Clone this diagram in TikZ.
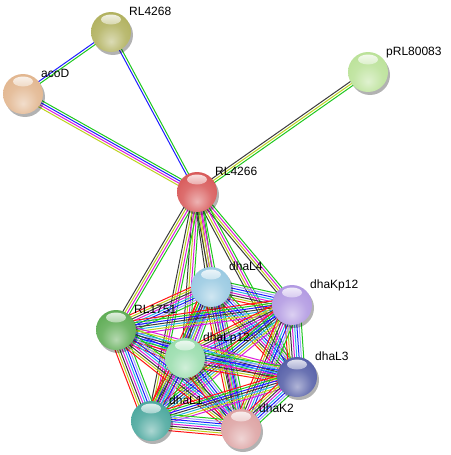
\documentclass[tikz,border=0pt]{standalone}
\usepackage{fontspec}
\setmainfont{Liberation Sans}
\usetikzlibrary{calc}
\pgfdeclarelayer{bg}
\pgfdeclarelayer{edges}
\pgfdeclarelayer{shadow}
\pgfdeclarelayer{labels}
\pgfsetlayers{bg,edges,shadow,main,labels}

\definecolor{eRed}{RGB}{255,20,20}
\definecolor{eGreen}{RGB}{30,200,30}
\definecolor{eBlue}{RGB}{30,30,255}
\definecolor{eBlack}{RGB}{60,60,60}
\definecolor{eMag}{RGB}{220,30,220}
\definecolor{eCyan}{RGB}{40,180,230}
\definecolor{eYel}{RGB}{190,210,30}
\definecolor{eLav}{RGB}{160,160,250}

\definecolor{cRLa}{RGB}{175,175,90}
\definecolor{cAco}{RGB}{225,180,140}
\definecolor{cPRL}{RGB}{185,225,150}
\definecolor{cRLb}{RGB}{215,85,85}
\definecolor{cLfour}{RGB}{150,200,225}
\definecolor{cKp}{RGB}{175,150,225}
\definecolor{cRLc}{RGB}{90,170,80}
\definecolor{cLp}{RGB}{150,220,170}
\definecolor{cLthree}{RGB}{80,90,165}
\definecolor{cLone}{RGB}{70,165,155}
\definecolor{cKtwo}{RGB}{220,160,160}

\colorlet{basecol}{red}
\pgfdeclareradialshading[basecol]{sphere}{\pgfpoint{0bp}{-12bp}}{%
  color(0bp)=(basecol!45!white); color(18bp)=(basecol!85!white);
  color(34bp)=(basecol); color(48bp)=(basecol!65!black); color(60bp)=(basecol!55!black)}

\def\setA{eBlue,eGreen}
\def\setAco{eYel,eMag,eBlue,eGreen}
\def\setP{eBlack,eYel,eGreen}
\def\setHub{eBlack,eYel,eMag,eGreen}
\def\setFull{eRed,eYel,eBlack,eMag,eCyan,eBlue,eLav,eGreen}
\def\setSeven{eRed,eGreen,eBlue,eBlack,eCyan,eYel,eMag}

\newcommand{\medge}[3]{%
  \xdef\ecount{0}%
  \foreach \c in #3 {\xdef\ecount{\the\numexpr\ecount+1\relax}}%
  \foreach \c [count=\i] in #3 {%
    \pgfmathsetmacro{\eoff}{(\i-(\ecount+1)/2)*2.3}%
    \draw[\c, line width=1pt] ($(#1)!\eoff pt!90:(#2)$) -- ($(#2)!\eoff pt!-90:(#1)$);
  }}

\newcommand{\sphere}[4]{%
  \node[circle, minimum size=40pt, inner sep=0pt] (#1) at (#2,#3) {};
  \begin{pgfonlayer}{shadow}
    \fill[black, opacity=0.3] ($(#1)+(2,3)$) circle (20pt);
  \end{pgfonlayer}
  \colorlet{basecol}{#4}%
  \shade[shading=sphere] (#1) circle (20pt);
  \shade[top color=white, bottom color=#4!40!white, opacity=0.8] ($(#1)+(0,-12.5)$) ellipse (10pt and 5pt);
}

\tikzset{lbltxt/.style={anchor=base west, inner sep=0pt, font=\fontsize{12}{14}\selectfont, text=black}}

\newcommand{\lbl}[2]{%
  \begin{pgfonlayer}{labels}
    \node[lbltxt] (#1-l) at ($(#1)+(18,-17)$) {#2};
  \end{pgfonlayer}}

\begin{document}
\begin{tikzpicture}[x=1pt,y=-1pt]
\begin{pgfonlayer}{bg}
\fill[white] (0,0) rectangle (450,455);
\end{pgfonlayer}
\useasboundingbox (0,0) rectangle (450,455);

\sphere{rla}{111}{32}{cRLa}
\sphere{aco}{23}{94}{cAco}
\sphere{prl}{368}{72}{cPRL}
\sphere{rlb}{197}{192}{cRLb}
\sphere{lfour}{211}{287}{cLfour}
\sphere{kp}{292}{305}{cKp}
\sphere{rlc}{116}{330}{cRLc}
\sphere{lp}{185}{358}{cLp}
\sphere{lthree}{297}{377}{cLthree}
\sphere{lone}{151}{421}{cLone}
\sphere{ktwo}{241}{429}{cKtwo}

\begin{pgfonlayer}{edges}
\medge{rla}{aco}{\setA}
\medge{rla}{rlb}{\setA}
\medge{aco}{rlb}{\setAco}
\medge{prl}{rlb}{\setP}
\foreach \n in {lfour,kp,rlc,lp,lthree,lone,ktwo} {\medge{rlb}{\n}{\setHub}}
\medge{lfour}{kp}{\setFull}
\medge{lfour}{rlc}{\setFull}
\medge{lfour}{lp}{\setFull}
\medge{lfour}{lthree}{\setFull}
\medge{lfour}{lone}{\setSeven}
\medge{lfour}{ktwo}{\setFull}
\medge{kp}{rlc}{\setSeven}
\medge{kp}{lp}{\setFull}
\medge{kp}{lthree}{\setFull}
\medge{kp}{lone}{\setSeven}
\medge{kp}{ktwo}{\setFull}
\medge{rlc}{lp}{\setFull}
\medge{rlc}{lthree}{\setSeven}
\medge{rlc}{lone}{\setFull}
\medge{rlc}{ktwo}{\setFull}
\medge{lp}{lthree}{\setFull}
\medge{lp}{lone}{\setFull}
\medge{lp}{ktwo}{\setFull}
\medge{lthree}{lone}{\setSeven}
\medge{lthree}{ktwo}{\setFull}
\medge{lone}{ktwo}{\setFull}
\end{pgfonlayer}

\lbl{rla}{RL4268}
\lbl{aco}{acoD}
\lbl{prl}{pRL80083}
\lbl{rlb}{RL4266}
\lbl{lfour}{dhaL4}
\lbl{kp}{dhaKp12}
\lbl{rlc}{RL1751}
\lbl{lp}{dhaLp12}
\lbl{lthree}{dhaL3}
\lbl{lone}{dhaL1}
\lbl{ktwo}{dhaK2}
\end{tikzpicture}
\end{document}
